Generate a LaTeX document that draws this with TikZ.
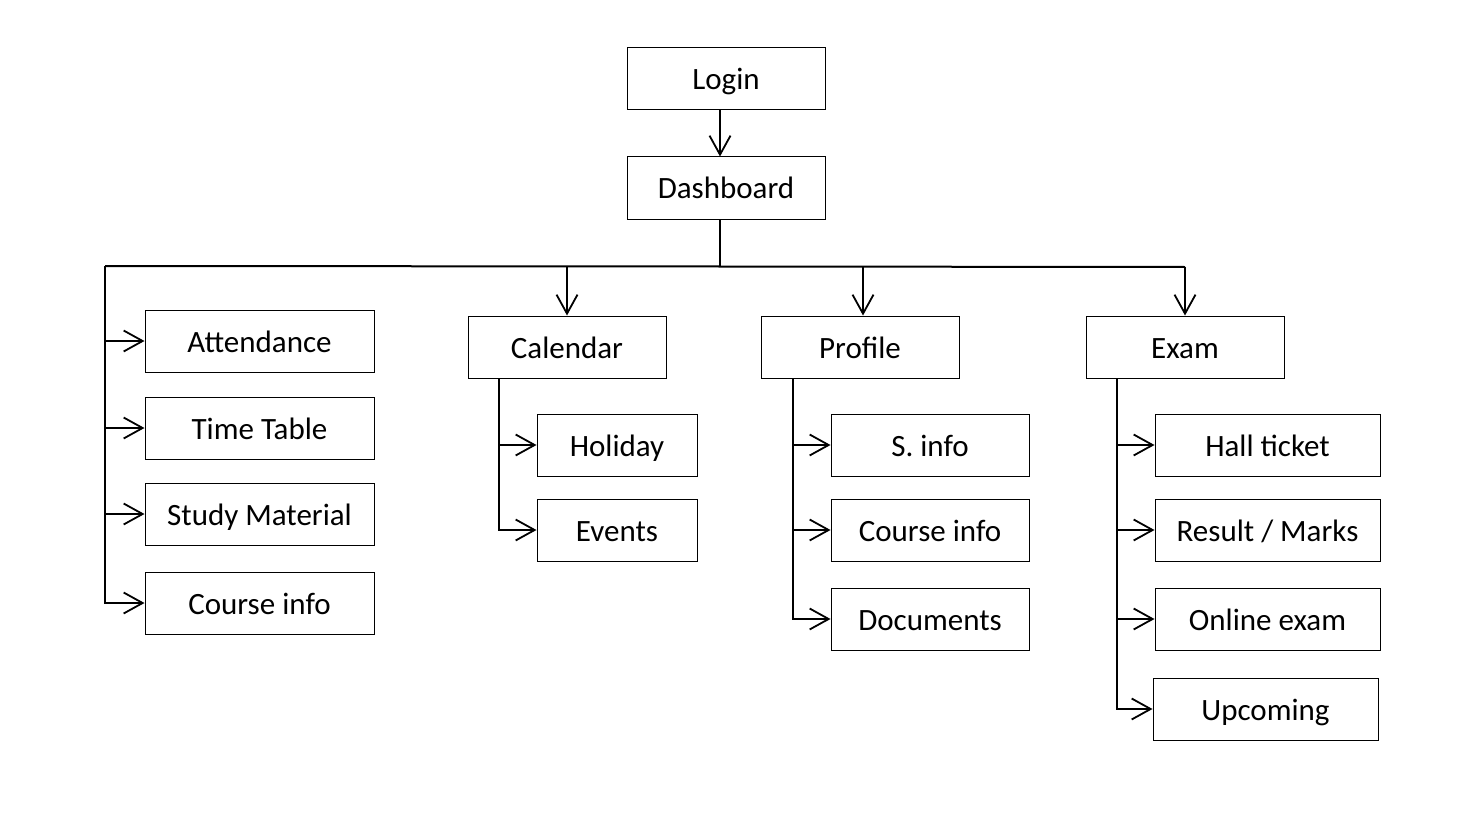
\documentclass[tikz,border=0pt]{standalone}
\usepackage{fontspec}
\setmainfont{Carlito}
\usetikzlibrary{arrows.meta}
\begin{document}
\begin{tikzpicture}[x=1pt,y=-1pt,
  box/.style={draw,line width=1pt,inner sep=0pt,minimum height=62pt,text height=26pt,text depth=4pt,font=\fontsize{31}{35}\selectfont},
  wbox/.style={box,minimum width=198pt},
  sbox/.style={box,minimum width=229pt},
  hbox/.style={box,minimum width=160pt},
  ebox/.style={box,minimum width=225pt},
  conn/.style={line width=2pt},
  arr/.style={conn,-{Straight Barb[length=19pt,width=21pt,line width=1.8pt]}}]
\useasboundingbox (0,0) rectangle (1482,813);
\node[wbox] (login) at (726,79) {Login};
\node[wbox] (dash) at (726,188) {Dashboard};
\node[sbox] (att) at (259.5,341) {Attendance};
\node[sbox] (tt) at (259.5,428) {Time Table};
\node[sbox] (sm) at (259.5,514) {Study Material};
\node[sbox] (ci1) at (259.5,603) {Course info};
\node[wbox] (cal) at (567,347) {Calendar};
\node[hbox] (hol) at (617,445) {Holiday};
\node[hbox] (ev) at (617,530) {Events};
\node[wbox] (prof) at (860,347) {Profile};
\node[wbox] (sinfo) at (930,445) {S. info};
\node[wbox] (ci2) at (930,530) {Course info};
\node[wbox] (docs) at (930,619) {Documents};
\node[wbox] (exam) at (1185,347) {Exam};
\node[ebox] (hall) at (1267.5,445) {Hall ticket};
\node[ebox] (res) at (1267.5,530) {Result / Marks};
\node[ebox] (onl) at (1267.5,619) {Online exam};
\node[ebox] (up) at (1265.5,709) {Upcoming};
\coordinate (busL) at (105,266);
\coordinate (busR) at (1185,267);
\draw[arr] ([xshift=-6pt]login.south) -- ([xshift=-6pt]dash.north);
\draw[conn] ([xshift=-6pt]dash.south) -- ++(0,47) coordinate (busM);
\draw[conn] (busL) -- (busM) -- (busR);
\draw[arr] (busL) |- (att.west);
\draw[arr] (busL) |- (tt.west);
\draw[arr] (busL) |- (sm.west);
\draw[arr] (busL) |- (ci1.west);
\draw[arr] (cal.north |- busM) -- (cal.north);
\draw[arr] ([xshift=3pt]prof.north |- busM) -- ([xshift=3pt]prof.north);
\draw[arr] (busR) -- (exam.north);
\draw[arr] ([xshift=31pt]cal.south west) |- (hol.west);
\draw[arr] ([xshift=31pt]cal.south west) |- (ev.west);
\draw[arr] ([xshift=32pt]prof.south west) |- (sinfo.west);
\draw[arr] ([xshift=32pt]prof.south west) |- (ci2.west);
\draw[arr] ([xshift=32pt]prof.south west) |- (docs.west);
\draw[arr] ([xshift=31pt]exam.south west) |- (hall.west);
\draw[arr] ([xshift=31pt]exam.south west) |- (res.west);
\draw[arr] ([xshift=31pt]exam.south west) |- (onl.west);
\draw[arr] ([xshift=31pt]exam.south west) |- (up.west);
\end{tikzpicture}
\end{document}
